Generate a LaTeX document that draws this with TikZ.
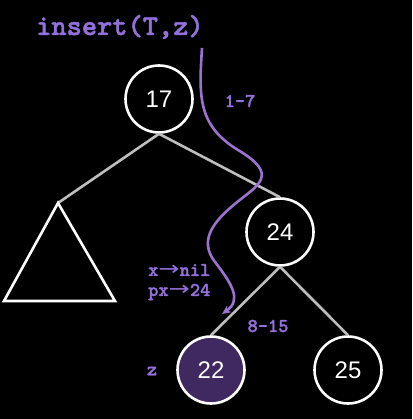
\documentclass[tikz,border=0pt]{standalone}
\usepackage{fontspec}
\setmainfont{Liberation Sans}
\newfontfamily\codefont{lmmonolt10-bold.otf}[FakeBold=1.5]
\newfontfamily\arrfont{DejaVu Sans}
\usetikzlibrary{arrows.meta}
\definecolor{ptext}{RGB}{147,112,219}
\definecolor{pcurve}{RGB}{155,114,207}
\definecolor{pfill}{RGB}{64,40,96}
\definecolor{edgegray}{RGB}{190,190,190}
\newcommand{\longarr}{{\arrfont\scalebox{1.3}[1]{→}}}
\tikzset{
  treenode/.style={circle, draw=white, line width=2.6pt, fill=black, minimum size=67pt, inner sep=0pt, text=white, font=\fontsize{24}{26}\selectfont},
  treeedge/.style={draw=edgegray, line width=2.6pt},
  lbl/.style={text=ptext, font=\codefont\fontsize{19.5}{21}\selectfont, inner sep=0pt},
}
\begin{document}
\begin{tikzpicture}[x=1pt,y=-1pt]
\fill[black] (0,0) rectangle (412,419);
\useasboundingbox (0,0) rectangle (412,419);

\node[treenode] (n17) at (159,99) {17};
\node[treenode] (n24) at (280,232) {24};
\node[treenode, fill=pfill] (n22) at (211,370) {22};
\node[treenode] (n25) at (348,370) {25};

\coordinate (apex) at (58,203);
\coordinate (bl) at (4,301);
\coordinate (br) at (115,301);

\draw[treeedge] (n17.south) -- (apex);
\draw[treeedge] (n17.south) -- (n24.north);
\draw[treeedge] (n24.south) -- (n22.north);
\draw[treeedge] (n24.south) -- (n25.north);

\draw[draw=white, line width=2.6pt, line join=miter] (apex) -- (bl) -- (br) -- cycle;

\node[text=ptext, font=\codefont\fontsize{29}{31}\selectfont, anchor=base west, inner sep=0pt] (ins) at (36,35) {insert(T,z)};
\node[lbl] (l17) at (240,101) {1-7};
\node[lbl] (l815) at (268,326) {8-15};
\node[lbl, anchor=west] (lx) at (148,270) {x\longarr nil};
\node[lbl, anchor=west] (lpx) at (148,292) {px\longarr 24};
\node[lbl] (lz) at (152,371) {z};

\coordinate (cs) at (202,48);
\coordinate (ce) at (222,314);
\draw[pcurve, line width=2.6pt, -{Stealth[length=9pt,width=8pt]}]
  (cs) .. controls (199,95) and (197,125) .. (238,150)
       .. controls (280,175) and (258,185) .. (236,203)
       .. controls (214,221) and (198,240) .. (215,262)
       .. controls (232,284) and (242,300) .. (ce);
\end{tikzpicture}
\end{document}
